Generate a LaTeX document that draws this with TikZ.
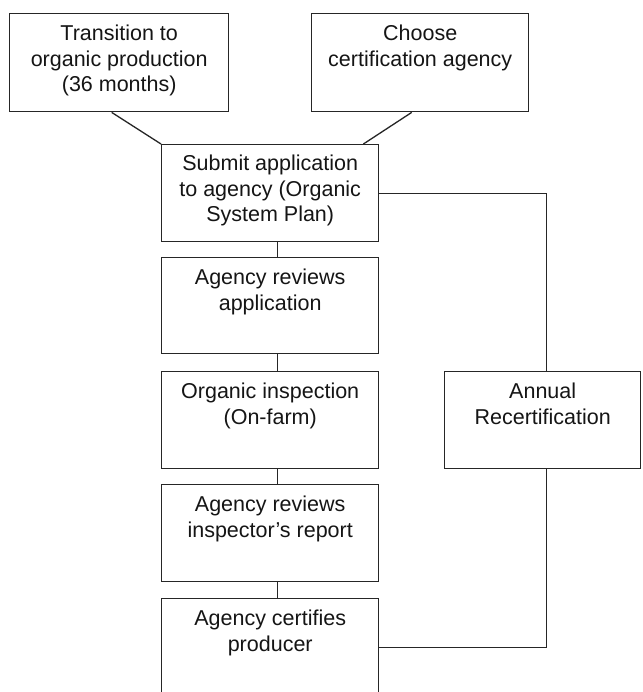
\documentclass[tikz,border=0pt]{standalone}
\usepackage{fontspec}
\setmainfont{Liberation Sans}
\definecolor{linec}{HTML}{262626}
\definecolor{textc}{HTML}{151515}
\begin{document}
\begin{tikzpicture}[x=1pt,y=-1pt,
  box/.style={draw=linec, line width=1.4pt, minimum width=217pt, minimum height=97pt, inner sep=0pt, anchor=north west},
  txt/.style={anchor=north, align=center, inner sep=0pt, font=\fontsize{21.5}{25.5}\selectfont, text=textc},
  conn/.style={draw=linec, line width=1.3pt}]
\useasboundingbox (0,0) rectangle (642,692);
\fill[white] (0,0) rectangle (642,692);

\node[box, minimum width=219pt, minimum height=98pt] (b1) at (9,13) {};
\node[txt] (t1) at ([yshift=-12pt]b1.north) {Transition to\\organic production\\(36 months)};

\node[box, minimum height=98pt] (b2) at (311,13) {};
\node[txt] (t2) at ([yshift=-12pt]b2.north) {Choose\\certification agency};

\node[box] (b3) at (161,144) {};
\node[txt] (t3) at ([yshift=-11pt]b3.north) {Submit application\\to agency (Organic\\System Plan)};

\node[box, minimum height=96pt] (b4) at (161,257) {};
\node[txt] (t4) at ([yshift=-12pt]b4.north) {Agency reviews\\application};

\node[box] (b5) at (161,371) {};
\node[txt] (t5) at ([yshift=-12pt]b5.north) {Organic inspection\\(On-farm)};

\node[box] (b6) at (161,484) {};
\node[txt] (t6) at ([yshift=-12pt]b6.north) {Agency reviews\\inspector{\char"0027}s report};

\node[box] (b7) at (161,598) {};
\node[txt] (t7) at ([yshift=-12pt]b7.north) {Agency certifies\\producer};

\node[box, minimum width=196pt] (b8) at (444,371) {};
\node[txt] (t8) at ([yshift=-12pt]b8.north) {Annual\\Recertification};

\draw[conn] ([xshift=-7.5pt]b1.south) -- (b3.north west);
\draw[conn] ([xshift=-8.5pt]b2.south) -- ([xshift=-16pt]b3.north east);
\draw[conn] ([xshift=7.5pt]b3.south) -- ([xshift=7.5pt]b4.north);
\draw[conn] ([xshift=7.5pt]b4.south) -- ([xshift=7.5pt]b5.north);
\draw[conn] ([xshift=7.5pt]b5.south) -- ([xshift=7.5pt]b6.north);
\draw[conn] ([xshift=7.5pt]b6.south) -- ([xshift=7.5pt]b7.north);
\draw[conn] (b3.east) -| ([xshift=3.5pt]b8.north);
\draw[conn] ([xshift=3.5pt]b8.south) |- (b7.east);
\end{tikzpicture}
\end{document}
